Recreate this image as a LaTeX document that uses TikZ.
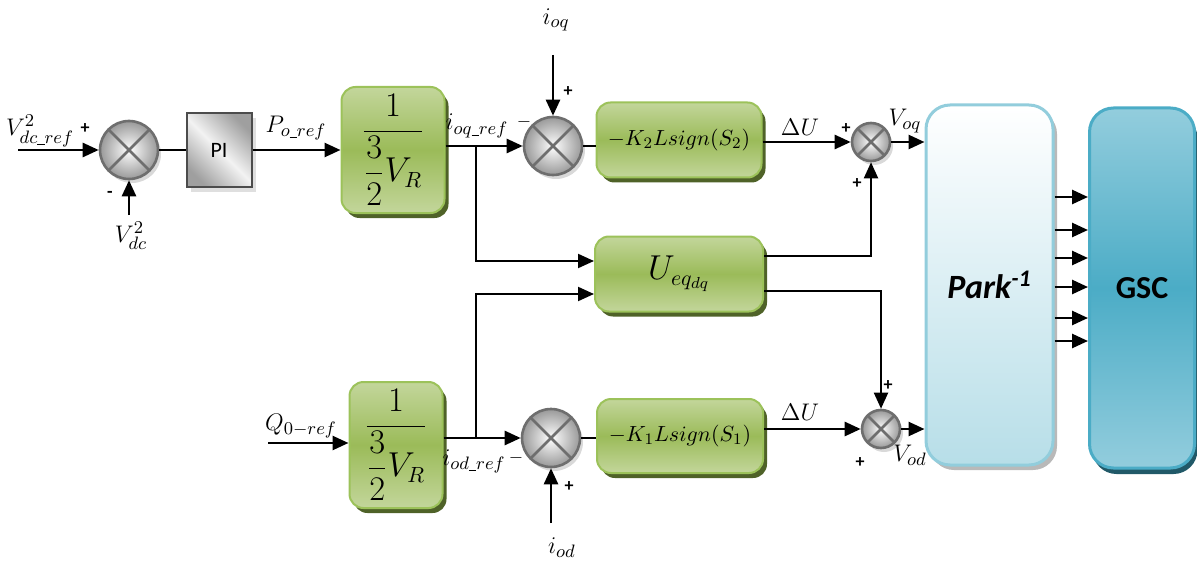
\documentclass[tikz,border=0pt]{standalone}
\usepackage{amsmath}
\usepackage{fontspec}
\setsansfont{Carlito}
\usepackage{tikz}
\usetikzlibrary{arrows.meta,positioning,shadows}
\definecolor{GainLight}{HTML}{C3D69B}
\definecolor{GainMid}{HTML}{9BBB59}
\definecolor{GainEdge}{HTML}{9CC25A}
\definecolor{GainShadow}{HTML}{4F6228}
\definecolor{SumEdge}{HTML}{6E6E6E}
\definecolor{ParkEdge}{HTML}{92CDDC}
\definecolor{ParkBottom}{HTML}{B7DEE8}
\definecolor{GscLight}{HTML}{93CDDD}
\definecolor{GscMid}{HTML}{4BACC6}
\definecolor{GscShadow}{HTML}{215968}
\newcommand{\usc}{\text{\rule[-0.2ex]{0.4em}{0.07em}}}

\begin{document}
\begin{tikzpicture}[x=0.5pt, y=-0.5pt,
    sumbig/.style={circle, draw=SumEdge, line width=1.3pt, inner sep=0pt, minimum size=29pt, inner color=white, outer color=gray!80,
      drop shadow={opacity=0.3, shadow xshift=1.5pt, shadow yshift=-2pt},
      path picture={\draw[SumEdge, line width=1.3pt] (path picture bounding box.north west) -- (path picture bounding box.south east)
        (path picture bounding box.north east) -- (path picture bounding box.south west);}},
    sumsmall/.style={sumbig, minimum size=19pt},
    gainbox/.style={draw=GainEdge, line width=1pt, rounded corners=7pt, top color=GainLight, bottom color=GainLight, middle color=GainMid,
      drop shadow={fill=GainShadow, opacity=1, shadow xshift=2pt, shadow yshift=-2.5pt}, inner sep=0pt, font=\fontsize{16}{18}\selectfont},
    smcbox/.style={gainbox, font=\fontsize{11}{13}\selectfont},
    pibox/.style={draw=gray!60!black, line width=1pt, left color=gray!75, right color=gray!75, middle color=gray!10, shading angle=135,
      drop shadow={opacity=0.25, shadow xshift=2pt, shadow yshift=-2.5pt}, font=\sffamily\fontsize{11}{13}\selectfont},
    parkbox/.style={draw=ParkEdge, line width=1.5pt, rounded corners=12pt, top color=white, bottom color=ParkBottom,
      drop shadow={fill=gray!55, opacity=1, shadow xshift=2pt, shadow yshift=-2.5pt}, font=\sffamily\bfseries\itshape\fontsize{17}{19}\selectfont},
    gscbox/.style={draw=GscMid, line width=1.5pt, rounded corners=12pt, top color=GscLight, bottom color=GscLight, middle color=GscMid,
      drop shadow={fill=GscShadow, opacity=1, shadow xshift=1.5pt, shadow yshift=-3pt}, font=\sffamily\bfseries\fontsize{16}{18}\selectfont},
    lbl/.style={inner sep=1pt, font=\fontsize{13}{15}\selectfont},
    sgn/.style={inner sep=0pt, font=\sffamily\bfseries\fontsize{9}{10}\selectfont},
    arr/.style={-{Triangle[length=8pt,width=7pt]}, line width=1.3pt},
    wire/.style={line width=1.3pt}
  ]
    \useasboundingbox (0,0) rectangle (1197,561);

    \node[sumbig] (sum1) at (129,150) {};
    \node[pibox, minimum width=32.5pt, minimum height=37pt] (pi) at (219,150) {PI};
    \node[gainbox, minimum width=51.5pt, minimum height=63pt] (gain1) at (393,150) {$\dfrac{1}{\dfrac{3}{2}V_R}$};
    \node[sumbig] (sum2) at (553,146) {};
    \node[smcbox, minimum width=82.5pt, minimum height=37.5pt] (smc2) at (679,140) {\raisebox{2.5pt}{$-K_2Lsign(S_2)$}};
    \node[sumsmall] (sum3) at (871,142) {};
    \node[gainbox, minimum width=84pt, minimum height=37.5pt] (ueq) at (679,274) {$U_{eq_{dq}}$};
    \node[gainbox, minimum width=46.5pt, minimum height=63pt] (gain2) at (396,445) {$\dfrac{1}{\dfrac{3}{2}V_R}$};
    \node[sumbig] (sum4) at (551,438) {};
    \node[smcbox, minimum width=83pt, minimum height=37pt] (smc1) at (680,436) {\raisebox{2.5pt}{$-K_1Lsign(S_1)$}};
    \node[sumsmall] (sum5) at (881,429) {};
    \node[parkbox, minimum width=63.5pt, minimum height=180pt] (park) at (989.5,285) {Park\textsuperscript{-1}};
    \node[gscbox, minimum width=52.5pt, minimum height=180pt] (gsc) at (1142,288) {GSC};

    \node[lbl] (lvref) at (40,131) {$V_{dc\usc ref}^{2}$};
    \node[sgn] (s1a) at (85,129) {+};
    \node[sgn] (s1b) at (110,194) {-};
    \node[lbl] (lvdc) at (131,236) {$V_{dc}^{2}$};
    \node[lbl] (lpref) at (296,128) {$P_{o\usc ref}$};
    \node[lbl] (lioqref) at (477,126) {$i_{oq\usc ref}$};
    \node[lbl] (lioq) at (556,20) {$i_{oq}$};
    \node[sgn] (s2a) at (568,92) {+};
    \node[sgn] (s2b) at (524,122) {$-$};
    \node[lbl] (ldu1) at (800,127) {$\Delta U$};
    \node[sgn] (s3a) at (846,129) {+};
    \node[sgn] (s3b) at (857,184) {+};
    \node[lbl] (lvoq) at (905,121) {$V_{oq}$};
    \node[lbl] (lq) at (301,426) {$Q_{0-ref}$};
    \node[lbl] (liodref) at (474,461) {$i_{od\usc ref}$};
    \node[sgn] (s4a) at (516,458) {$-$};
    \node[sgn] (s4b) at (569,487) {+};
    \node[lbl] (liod) at (562,548) {$i_{od}$};
    \node[lbl] (ldu2) at (800,412) {$\Delta U$};
    \node[sgn] (s5a) at (888,386) {+};
    \node[sgn] (s5b) at (860,463) {+};
    \node[lbl] (lvod) at (910,455) {$V_{od}$};

    \coordinate (vin) at (18,150);
    \coordinate (vdc) at (129,215);
    \coordinate (qbr) at (476,146);
    \coordinate (ioq) at (553,55);
    \coordinate (qin) at (268,443);
    \coordinate (dbr) at (476,438);
    \coordinate (iod) at (551,523);

    \draw[arr] (vin) -- (sum1.west);
    \draw[arr] (vdc) -- (sum1.south);
    \draw[wire] (sum1.east) -- (pi.west);
    \draw[arr] (pi.east) -- (gain1.west);
    \draw[arr] (gain1.east |- sum2) -- (sum2.west);
    \draw[arr, line width=1pt] (qbr) |- ([yshift=6.5pt]ueq.west);
    \draw[arr] (ioq) -- (sum2.north);
    \draw[wire] (sum2.east) -- (smc2.west |- sum2.east);
    \draw[arr] (smc2.east |- sum3) -- (sum3.west);
    \draw[arr, line width=1pt] ([yshift=9pt]ueq.east) -| (sum3.south);
    \draw[arr] (sum3.east) -- (park.west |- sum3.east);

    \draw[arr] (qin) -- (gain2.west |- qin);
    \draw[arr] (gain2.east |- sum4) -- (sum4.west);
    \draw[arr, line width=1pt] (dbr) |- ([yshift=-10pt]ueq.west);
    \draw[arr] (iod) -- (sum4.south);
    \draw[wire] (sum4.east) -- (smc1.west |- sum4.east);
    \draw[arr, line width=1pt] ([yshift=-8.5pt]ueq.east) -| (sum5.north);
    \draw[arr] (smc1.east |- sum5) -- (sum5.west);
    \draw[arr] (sum5.east) -- (park.west |- sum5.east);

    \foreach \yy in {197,230,258,287,318,341}
      \draw[arr] (park.east |- 0,\yy) -- (gsc.west |- 0,\yy);
  \end{tikzpicture}
\end{document}
